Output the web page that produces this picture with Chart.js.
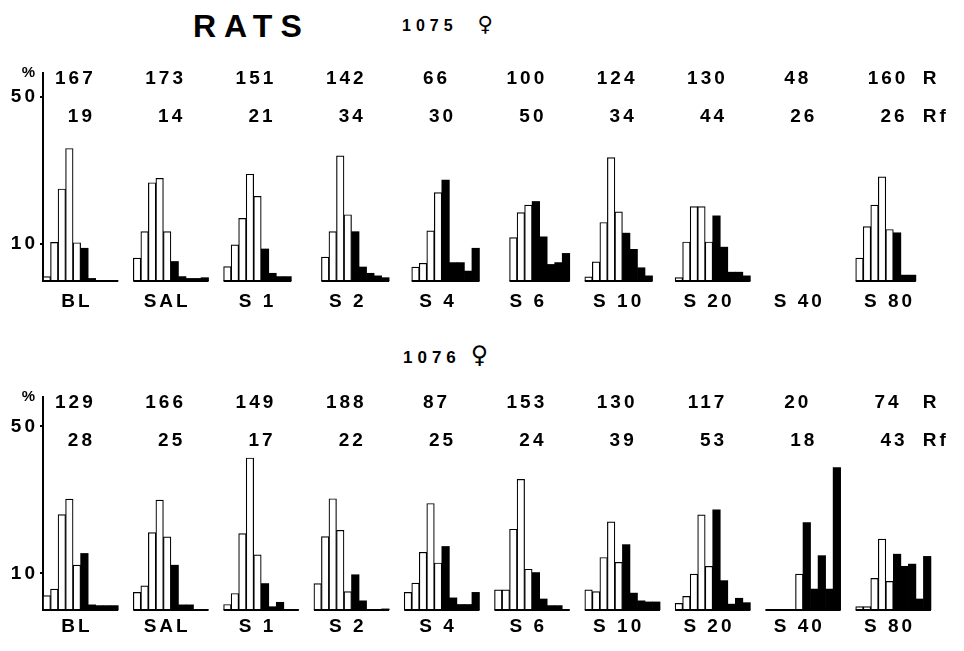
<!DOCTYPE html>
<html>
<head>
<meta charset="utf-8">
<script src="https://cdn.jsdelivr.net/npm/chart.js@4.4.1/dist/chart.umd.min.js"></script>
<style>
  body { margin: 0; background: #fff; width: 964px; height: 651px; position: relative; overflow: hidden;
         font-family: "Liberation Sans", Arial, sans-serif; font-weight: bold; color: #000; }
  .box { position: absolute; left: 0; width: 964px; }
  .txt { position: absolute; line-height: 1; white-space: nowrap; }
  .sym { font-family: "DejaVu Sans", sans-serif; font-weight: bold; }
</style>
</head>
<body>
<div class="txt" style="left:193px;top:10px;font-size:32px;letter-spacing:8px">RATS</div>
<div class="txt" style="left:402px;top:14px;font-size:16px;letter-spacing:5px">1075<span class="sym" style="font-size:21px;margin-left:20px">♀</span></div>
<div class="txt" style="left:403px;top:343px;font-size:17px;letter-spacing:5px">1076<span class="sym" style="font-size:24px;margin-left:10px">♀</span></div>

<div class="box" style="top:0;height:320px"><canvas id="rat1075"></canvas></div>
<div class="box" style="top:330px;height:321px"><canvas id="rat1076"></canvas></div>

<script>
const groups = ["BL", "SAL", "S 1", "S 2", "S 4", "S 6", "S 10", "S 20", "S 40", "S 80"];
const OPEN_BINS = 5; // first bins drawn open (R), the rest filled (Rf)

// rat 1075 - % of responses per latency bin
const r1075 = [167, 173, 151, 142, 66, 100, 124, 130, 48, 160];
const rf1075 = [19, 14, 21, 34, 30, 50, 34, 44, 26, 26];
const pct1075 = [
  [1.2, 10.5, 25, 36, 10.4, 8.9, 0.7, 0, 0, 0],
  [6.2, 13.4, 26.7, 27.9, 13.4, 5.3, 1.2, 0.7, 0.7, 0.9],
  [3.9, 9.8, 17, 29, 23, 8.7, 2.1, 1.2, 1.2, null],
  [null, 6.5, 13.4, 34, 18, 13.4, 3.8, 2.1, 1.4, 0.9],
  [null, 3.8, 4.8, 13.6, 24, 27.4, 5, 5, 2.7, 8.9],
  [null, null, 11.8, 18.6, 20.6, 21.6, 12, 4.5, 5, 7.5],
  [1.1, 5.2, 15.9, 33.5, 18.8, 13, 8.6, 3.6, 1.4, null],
  [0.9, 10.6, 20.2, 20.2, 10.6, 17.7, 9.2, 2.4, 2.4, 1.4],
  [null, null, null, null, null, null, null, null, null, null],
  [6.2, 14.8, 20.6, 28.3, 14, 13.1, 1.6, 1.6, null, null]
];

// rat 1076
const r1076 = [129, 166, 149, 188, 87, 153, 130, 117, 20, 74];
const rf1076 = [28, 25, 17, 22, 25, 24, 39, 53, 18, 43];
const pct1076 = [
  [3.9, 5.7, 26, 30.2, 12.2, 15.4, 1.4, 1.2, 1.2, 1.2],
  [4.8, 6.6, 21.1, 29.9, 19.9, 12.2, 1.4, 1.4, 0, 0],
  [1.5, 4.5, 20.8, 41.4, 15, 7.2, 0.9, 2.1, 0, 0],
  [7.2, 20, 30.3, 21.7, 5, 9.6, 2.5, 0, 0, 0.3],
  [4.8, 7.3, 15.7, 29, 12.8, 17.3, 3.3, 1.5, 1.5, 4.8],
  [5.5, 5.5, 22, 35.6, 11.1, 10.2, 3, 1.2, 1.2, 0],
  [5.5, 5, 14.3, 24, 13, 17.8, 4.6, 2.5, 2.2, 2.2],
  [1.8, 3.7, 9.8, 25.9, 11.9, 27.3, 8, 1.6, 3.2, 2],
  [0, 0, 0, 0, 9.8, 23.8, 5.7, 14.8, 5.7, 38.8],
  [0.9, 0.9, 8.6, 19.3, 7.8, 15.2, 11.9, 12.5, 3, 14.6]
];

const yTicks = [10, 50];

const BINS = 10, PER = 12;  // 10 bins + 2 empty slots between groups
const FONT = '"Liberation Sans", Arial, sans-serif';

function slots(pct, open) {
  const out = [];
  pct.forEach(row => {
    for (let b = 0; b < PER; b++) {
      const v = b < BINS ? row[b] : null;
      out.push((b < OPEN_BINS) === open ? v : null);
    }
  });
  return out;
}

function marks(pct, r, rf) {
  return {
    id: "marks",
    beforeDraw(chart) { chart.ctx.letterSpacing = "3px"; },
    afterDatasetsDraw(chart) {
      const ctx = chart.ctx, xs = chart.scales.x, ys = chart.scales.y;
      const y0 = ys.getPixelForValue(0);
      ctx.save();
      ctx.strokeStyle = "#000";
      ctx.lineWidth = 2;
      pct.forEach((row, g) => {
        const idx = row.map((v, i) => v === null ? -1 : i).filter(i => i >= 0);
        if (!idx.length) return;
        ctx.beginPath();
        ctx.moveTo(xs.getPixelForValue(g * PER + idx[0] - 0.5), y0);
        ctx.lineTo(xs.getPixelForValue(g * PER + idx[idx.length - 1] + 0.5), y0);
        ctx.stroke();
      });
      ctx.restore();
    },
    afterDraw(chart) {
      const ctx = chart.ctx, xs = chart.scales.x, top = chart.chartArea.top;
      ctx.save();
      ctx.letterSpacing = "3px";
      ctx.fillStyle = "#000";
      ctx.font = "bold 19px " + FONT;
      ctx.textBaseline = "middle";
      ctx.textAlign = "center";
      groups.forEach((g, i) => {
        ctx.fillText(String(r[i]), xs.getPixelForValue(i * PER + 3.8), top + 6);
        ctx.fillText(String(rf[i]), xs.getPixelForValue(i * PER + 4.6), top + 44);
      });
      ctx.textAlign = "left";
      const last = (groups.length - 1) * PER + 8.4;
      ctx.fillText("R", xs.getPixelForValue(last), top + 6);
      ctx.fillText("Rf", xs.getPixelForValue(last), top + 44);
      ctx.restore();
    }
  };
}

function drawRat(id, pct, r, rf, yMax, padTop, xHeight, labelPad) {
  const labels = [];
  groups.forEach(g => { for (let b = 0; b < PER; b++) labels.push(g + "-" + b); });

  new Chart(document.getElementById(id), {
    type: "bar",
    data: {
      labels: labels,
      datasets: [
        { label: "R", data: slots(pct, true), backgroundColor: "#fff", borderColor: "#000",
          borderWidth: 1.2, grouped: false, barPercentage: 1, categoryPercentage: 1 },
        { label: "Rf", data: slots(pct, false), backgroundColor: "#000", borderWidth: 0,
          grouped: false, barPercentage: 1, categoryPercentage: 1 }
      ]
    },
    options: {
      responsive: true,
      maintainAspectRatio: false,
      animation: false,
      layout: { padding: { top: padTop, right: 18, left: 0, bottom: 0 } },
      plugins: { legend: { display: false }, tooltip: { enabled: false } },
      scales: {
        x: {
          offset: true,
          grid: { display: false, drawTicks: false },
          border: { display: false },
          afterFit: s => { s.height = xHeight; },
          ticks: {
            autoSkip: false, maxRotation: 0, minRotation: 0, padding: labelPad,
            color: "#000", font: { family: FONT, size: 19, weight: "bold" },
            callback: (v, i) => i % PER === 4 ? groups[Math.floor(i / PER)] : ""
          }
        },
        y: {
          min: 0, max: yMax,
          afterFit: s => { s.width = 43; },
          afterBuildTicks: s => { s.ticks = yTicks.concat([yMax]).map(v => ({ value: v })); },
          border: { display: true, color: "#000", width: 2 },
          grid: {
            drawOnChartArea: false, drawTicks: true, tickLength: 3, lineWidth: 2,
            color: c => c.tick && c.tick.value === yMax ? "rgba(0,0,0,0)" : "#000"
          },
          ticks: {
            padding: 2, color: "#000",
            font: c => ({ family: FONT, weight: "bold", size: c.tick && c.tick.value === yMax ? 15 : 19 }),
            callback: v => v === yMax ? "%" : String(v)
          }
        }
      }
    },
    plugins: [marks(pct, r, rf)]
  });
}

drawRat("rat1075", pct1075, r1075, rf1075, 56.5, 73, 39, 9);
drawRat("rat1076", pct1076, r1076, rf1076, 58, 67, 41, 5);
</script>
</body>
</html>
